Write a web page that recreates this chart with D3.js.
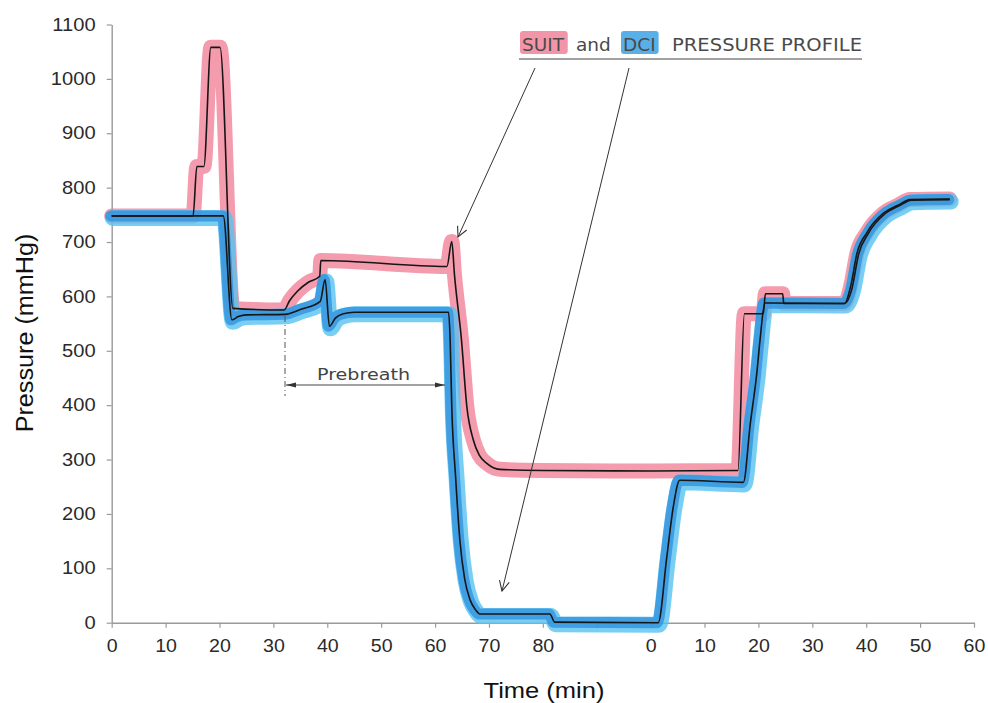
<!DOCTYPE html>
<html>
<head>
<meta charset="utf-8">
<script src="https://cdn.jsdelivr.net/npm/d3@7"></script>
<style>
  html, body { margin: 0; padding: 0; background: #fff; }
  svg { display: block; }
</style>
</head>
<body>
<svg id="chart" width="988" height="703"></svg>
<script>
// ---------------- DATA ----------------
// continuous time axis (min): 0..80 first run, 100..160 shown as 0..60 second run
const xTickValues = [0,10,20,30,40,50,60,70,80,90,100,110,120,130,140,150,160];
const xTickLabels = ["0","10","20","30","40","50","60","70","80","","0","10","20","30","40","50","60"];
const yTickValues = [0,100,200,300,400,500,600,700,800,900,1000,1100];

const suitTime = [0,15.1,15.8,17.1,18.4,20.1,22.5,32.0,33.0,34.5,36.5,38.6,38.8,62.2,63.1,63.6,64.9,65.9,67.1,68.2,69.6,72,80,100,116.2,117.4,120.9,121.3,124.5,124.7,136,137.1,138.3,140.1,143.2,146,148.1,155.5];
const suitPressure = [748,748,839,839,1058,1058,578,575,592,610,626,637,666,655,701,640,520,397,336,308,293,282,280,279,280,568,568,605,605,587,587,618,680,717,753,768,778,779];

const dciTime = [0,20.7,22.3,23.5,25,32.2,35,38.7,39.6,40.4,41.5,43,45,62.5,62.8,63.1,63.8,64.6,65.5,66.5,67.5,68.3,81.3,82.2,101.4,103,104.2,105.4,117.2,118.5,119.7,120.3,121.2,136,137.3,138.6,140.4,143.5,146.2,148.4,155.5];
const dciPressure = [748,748,557,563,566,567,576,591,631,545,560,568,571,571,520,397,270,152,80,42,24,16,16,1,0,121,213,262,258,367,459,520,588,587,612,678,716,752,767,777,778];

// ---------------- LAYOUT ----------------
const svg = d3.select("#chart");
const x = d3.scaleLinear().domain([0,160]).range([111.7, 974]);
const y = d3.scaleLinear().domain([0,1100]).range([622.7, 24.5]);

const axisColor = "#9a9a9a";
const labelFont = "'Liberation Sans', Arial, sans-serif";
const handFont = "'DejaVu Sans', sans-serif";

// ---------------- AXES ----------------
const xAxis = d3.axisBottom(x).tickValues(xTickValues)
  .tickFormat((d,i) => xTickLabels[i]).tickSize(5).tickSizeOuter(0).tickPadding(8);
const gx = svg.append("g").attr("transform", `translate(0,${y(0)})`).call(xAxis);
gx.select(".domain").attr("stroke", axisColor).attr("stroke-width", 1.4);
gx.selectAll(".tick line").attr("stroke", axisColor).attr("stroke-width", 1.2);
gx.selectAll(".tick text").attr("fill", "#2a2a2a").attr("font-size", 17.5)
  .attr("font-family", labelFont).attr("transform", "scale(1.12,1)").attr("dy", "0.95em");

const yAxis = d3.axisLeft(y).tickValues(yTickValues).tickFormat(d3.format("d"))
  .tickSize(5).tickSizeOuter(0).tickPadding(9);
const gy = svg.append("g").attr("transform", `translate(${x(0)},0)`).call(yAxis);
gy.select(".domain").attr("stroke", axisColor).attr("stroke-width", 1.4);
gy.selectAll(".tick line").attr("stroke", axisColor).attr("stroke-width", 1.2);
gy.selectAll(".tick text").attr("fill", "#2a2a2a").attr("font-size", 17.5)
  .attr("font-family", labelFont).attr("transform", "scale(1.15,1)");

svg.append("text").attr("x", 544).attr("y", 698).attr("text-anchor", "middle")
  .attr("font-family", labelFont).attr("font-size", 22).attr("fill", "#111")
  .attr("transform", "translate(544,0) scale(1.16,1) translate(-544,0)")
  .text("Time (min)");

svg.append("text").attr("text-anchor", "middle")
  .attr("font-family", labelFont).attr("font-size", 21).attr("fill", "#111")
  .attr("transform", "translate(33,333) rotate(-90) scale(1.2,1.12)")
  .text("Pressure (mmHg)");

// ---------------- LINES ----------------
const suit = suitTime.map((t,i) => [t, suitPressure[i]]);
const dci = dciTime.map((t,i) => [t, dciPressure[i]]);
const line = d3.line().x(d => x(d[0])).y(d => y(d[1])).curve(d3.curveMonotoneX);

svg.append("path").datum(suit).attr("d", line).attr("fill", "none")
  .attr("stroke", "#f07a92").attr("stroke-opacity", 0.75).attr("stroke-width", 15)
  .attr("stroke-linecap", "round").attr("stroke-linejoin", "round");
svg.append("path").datum(dci).attr("d", line).attr("fill", "none")
  .attr("stroke", "#57c3f0").attr("stroke-opacity", 0.8).attr("stroke-width", 16)
  .attr("stroke-linecap", "round").attr("stroke-linejoin", "round")
  .attr("transform", "translate(1,2)");
svg.append("path").datum(dci).attr("d", line).attr("fill", "none")
  .attr("stroke", "#2e8fdc").attr("stroke-opacity", 0.75).attr("stroke-width", 11)
  .attr("stroke-linecap", "round").attr("stroke-linejoin", "round")
  .attr("transform", "translate(-1,0)");

svg.append("path").datum(suit).attr("d", line).attr("fill", "none")
  .attr("stroke", "#161616").attr("stroke-width", 1.6);
svg.append("path").datum(dci).attr("d", line).attr("fill", "none")
  .attr("stroke", "#161616").attr("stroke-width", 1.6);

// ---------------- ANNOTATIONS ----------------
const defs = svg.append("defs");
defs.append("marker").attr("id", "vhead").attr("viewBox", "0 0 12 12")
  .attr("refX", 11).attr("refY", 6).attr("markerWidth", 12).attr("markerHeight", 12)
  .attr("markerUnits", "userSpaceOnUse").attr("orient", "auto")
  .append("path").attr("d", "M1,1 L11,6 L1,11").attr("fill", "none")
  .attr("stroke", "#333").attr("stroke-width", 1.1);
defs.append("marker").attr("id", "fhead").attr("viewBox", "0 0 10 6")
  .attr("refX", 10).attr("refY", 3).attr("markerWidth", 10).attr("markerHeight", 6)
  .attr("markerUnits", "userSpaceOnUse").attr("orient", "auto-start-reverse")
  .append("path").attr("d", "M0,0.5 L10,3 L0,5.5 Z").attr("fill", "#333");

// title words
const title = svg.append("g");
const words = [
  {t: "SUIT", x: 522, hl: "#f07a92"},
  {t: "and", x: 576, hl: null},
  {t: "DCI", x: 623, hl: "#2f9be2"},
  {t: "PRESSURE PROFILE", x: 672, hl: null, len: 190}
];
words.forEach(w => {
  const tx = title.append("text").attr("x", w.x).attr("y", 51)
    .attr("font-family", handFont).attr("font-size", 18.5).attr("fill", "#4a4a4a").text(w.t);
  if (w.len) tx.attr("textLength", w.len).attr("lengthAdjust", "spacingAndGlyphs");
  if (w.hl) {
    const b = tx.node().getBBox();
    title.insert("rect", "text").attr("x", b.x - 2).attr("y", 31).attr("width", b.width + 5)
      .attr("height", 23).attr("rx", 3).attr("fill", w.hl).attr("fill-opacity", 0.8);
  }
});
title.append("line").attr("x1", 519).attr("x2", 862).attr("y1", 59).attr("y2", 59)
  .attr("stroke", "#444").attr("stroke-width", 1.2);

// pointer arrows
svg.append("line").attr("x1", 535).attr("y1", 68).attr("x2", 458).attr("y2", 237)
  .attr("stroke", "#333").attr("stroke-width", 1).attr("marker-end", "url(#vhead)");
svg.append("line").attr("x1", 629).attr("y1", 68).attr("x2", 502).attr("y2", 591)
  .attr("stroke", "#333").attr("stroke-width", 1).attr("marker-end", "url(#vhead)");

// prebreath
svg.append("line").attr("x1", 285).attr("x2", 285).attr("y1", 316).attr("y2", 396)
  .attr("stroke", "#555").attr("stroke-width", 1).attr("stroke-dasharray", "6,3,1,3");
svg.append("line").attr("x1", 286).attr("x2", 445).attr("y1", 385).attr("y2", 385)
  .attr("stroke", "#444").attr("stroke-width", 1)
  .attr("marker-start", "url(#fhead)").attr("marker-end", "url(#fhead)");
svg.append("text").attr("x", 317).attr("y", 380).attr("font-family", handFont)
  .attr("font-size", 15.5).attr("fill", "#444").attr("textLength", 93)
  .attr("lengthAdjust", "spacingAndGlyphs").text("Prebreath");
</script>
</body>
</html>
